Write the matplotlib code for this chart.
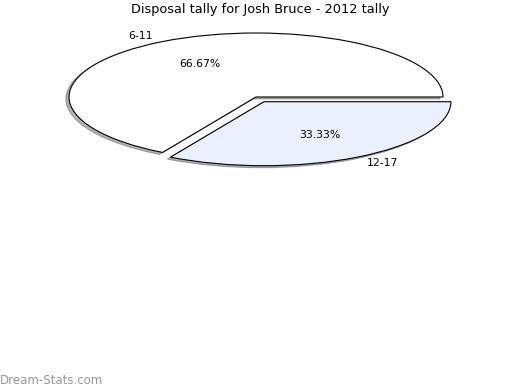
import matplotlib
matplotlib.use("Agg")
import matplotlib.pyplot as plt

# data
categories = ["6-11", "12-17"]
shares = [66.67, 33.33]
slice_colors = ["#ffffff", "#eaf0fd"]
explode = [0.0, 0.085]

title = "Disposal tally for Josh Bruce - 2012 tally"

W, H = 520, 390
fig = plt.figure(figsize=(W / 100, H / 100), dpi=100)
ax = fig.add_axes([0, 0, 1, 1])

wedges, texts, autotexts = ax.pie(
    shares,
    labels=categories,
    colors=slice_colors,
    explode=explode,
    startangle=0,
    counterclock=True,
    # small offset, the axes are stretched so x and y need different values
    shadow=dict(ox=-0.012, oy=-0.022, shade=0.6),
    autopct="%.2f%%",
    pctdistance=0.6,
    labeldistance=1.1,
    wedgeprops=dict(edgecolor="black", linewidth=0.8),
    textprops=dict(fontsize=7.8),
)

# squash the pie into an ellipse: centre at (256, 97) px, radii 187 x 64 px
cx, cy, rx, ry = 256, 97, 187, 64
ax.set_aspect("auto")
ax.set_xlim(-cx / rx, (W - cx) / rx)
ax.set_ylim(-(H - cy) / ry, cy / ry)
ax.axis("off")

fig.text(0.5, 1 - 10 / H, title, ha="center", va="center", fontsize=9.3)
fig.text(0.0, 1 - 380 / H, "Dream-Stats.com", ha="left", va="center",
         fontsize=8.5, color="#999999")

fig.savefig("out.png", dpi=100)
